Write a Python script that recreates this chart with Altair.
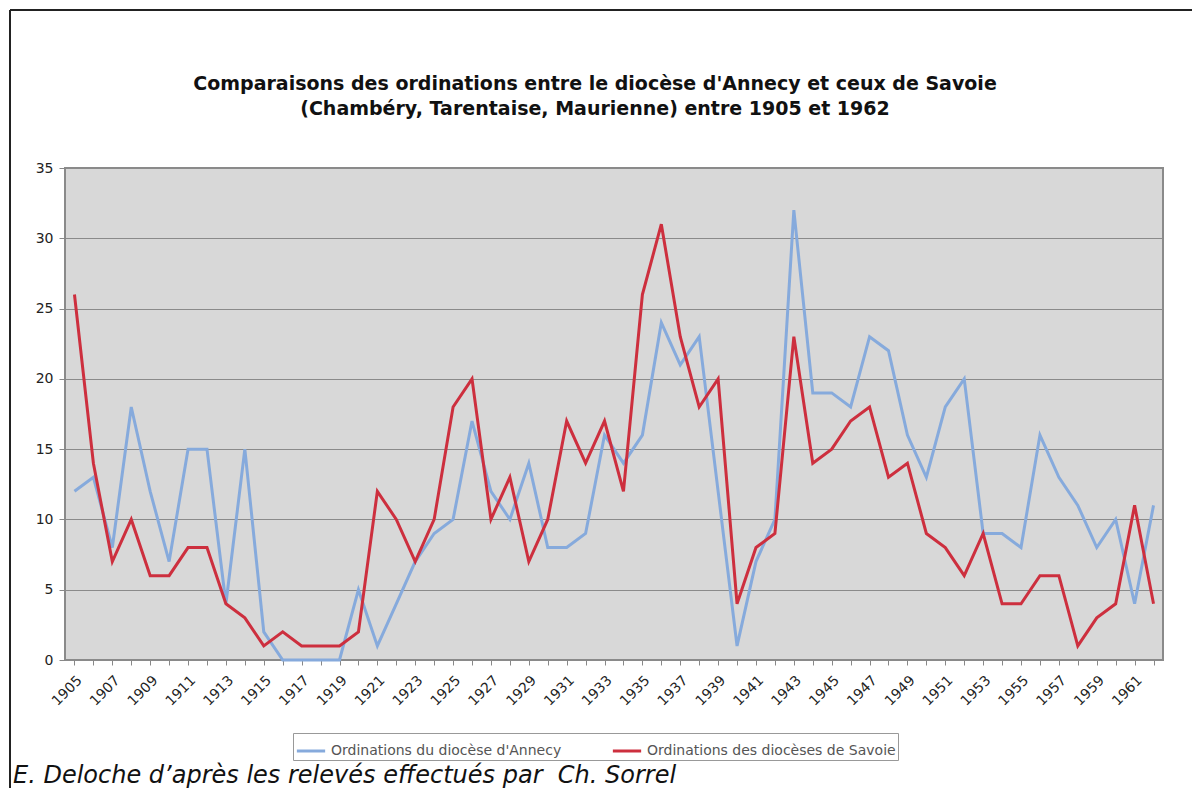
import altair as alt
import pandas as pd

years = list(range(1905, 1963))
annecy = [12, 13, 8, 18, 12, 7, 15, 15, 4, 15, 2, 0, 0, 0, 0, 5, 1, 4, 7, 9,
          10, 17, 12, 10, 14, 8, 8, 9, 16, 14, 16, 24, 21, 23, 12, 1, 7, 10, 32, 19,
          19, 18, 23, 22, 16, 13, 18, 20, 9, 9, 8, 16, 13, 11, 8, 10, 4, 11]
savoie = [26, 14, 7, 10, 6, 6, 8, 8, 4, 3, 1, 2, 1, 1, 1, 2, 12, 10, 7, 10,
          18, 20, 10, 13, 7, 10, 17, 14, 17, 12, 26, 31, 23, 18, 20, 4, 8, 9, 23, 14,
          15, 17, 18, 13, 14, 9, 8, 6, 9, 4, 4, 6, 6, 1, 3, 4, 11, 4]
series_names = ["Ordinations du diocèse d'Annecy", "Ordinations des diocèses de Savoie"]
series_colors = ["#86AADC", "#CD2F3E"]
title_lines = ["Comparaisons des ordinations entre le diocèse d'Annecy et ceux de Savoie",
               "(Chambéry, Tarentaise, Maurienne) entre 1905 et 1962"]
footer_text = "E. Deloche d’après les relevés effectués par\u00a0 Ch. Sorrel"

rows = []
for name, vals in zip(series_names, [annecy, savoie]):
    for y, v in zip(years, vals):
        rows.append({"Année": str(y), "Ordinations": v, "Série": name})
df = pd.DataFrame(rows)

W, H = 1098, 492
FONT = "DejaVu Sans"

lines = alt.Chart(df).mark_line(strokeWidth=3, strokeJoin="miter").encode(
    x=alt.X("Année:O", sort=[str(y) for y in years],
            scale=alt.Scale(type="point", padding=0.5),
            axis=alt.Axis(title=None, labelAngle=315, labelAlign="right", labelBaseline="top",
                          labelExpr="parseInt(datum.label) % 2 == 1 ? datum.label : ''",
                          labelFont=FONT, labelFontSize=14, labelColor="#222",
                          labelPadding=8, tickSize=5, tickColor="#888", domain=False,
                          labelOverlap=False, labelBound=False, labelFlush=False)),
    y=alt.Y("Ordinations:Q", scale=alt.Scale(domain=[0, 35], nice=False),
            axis=alt.Axis(title=None, values=[0, 5, 10, 15, 20, 25, 30, 35],
                          labelFont=FONT, labelFontSize=14, labelColor="#222",
                          labelPadding=6, tickSize=6, tickColor="#888",
                          gridColor="#8A8A8A", gridWidth=1, domain=False)),
    color=alt.Color("Série:N", scale=alt.Scale(domain=series_names, range=series_colors),
                    legend=alt.Legend(title=None, orient="none", legendX=228, legendY=565,
                                      direction="horizontal", symbolType="stroke",
                                      symbolStrokeWidth=3, symbolSize=800,
                                      labelFont=FONT, labelFontSize=14, labelColor="#555",
                                      labelLimit=0,
                                      strokeColor="#999", padding=2, columnPadding=44,
                                      labelOffset=4)),
)

t1 = alt.Chart(pd.DataFrame({"t": [title_lines[0]]})).mark_text(
    font=FONT, fontSize=19, fontWeight="bold", color="#111", align="center", baseline="alphabetic"
).encode(text="t:N", x=alt.value(530), y=alt.value(-78))
t2 = alt.Chart(pd.DataFrame({"t": [title_lines[1]]})).mark_text(
    font=FONT, fontSize=19, fontWeight="bold", color="#111", align="center", baseline="alphabetic"
).encode(text="t:N", x=alt.value(530), y=alt.value(-53))
footer = alt.Chart(pd.DataFrame({"t": [footer_text]})).mark_text(
    font=FONT, fontSize=24, fontStyle="italic", color="#111", align="left", baseline="alphabetic"
).encode(text="t:N", x=alt.value(-52), y=alt.value(615))

frame_left = alt.Chart(pd.DataFrame({"a": [0]})).mark_rule(color="#222", strokeWidth=2).encode(
    x=alt.value(-55), y=alt.value(-158), y2=alt.value(630))
frame_top = alt.Chart(pd.DataFrame({"a": [0]})).mark_rule(color="#222", strokeWidth=2).encode(
    x=alt.value(-55), x2=alt.value(1140), y=alt.value(-158))

chart = alt.layer(lines, t1, t2, footer, frame_left, frame_top).properties(
    width=W, height=H,
    autosize=alt.AutoSizeParams(type="none"),
    padding={"left": 57, "top": 160, "right": 29, "bottom": 128},
    background="white",
).configure_view(fill="#D8D8D8", stroke="#8A8A8A", strokeWidth=2)

chart.save("out.html", embed_options={"renderer": "svg", "actions": False})
